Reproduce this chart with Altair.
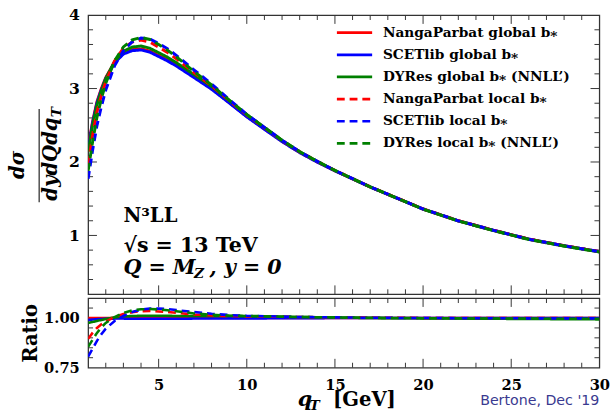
import altair as alt
import pandas as pd

# ---------------- data ----------------
q_vals = [1, 1.25, 1.5, 1.75, 2, 2.5, 3, 3.5, 4, 4.5, 5, 5.5, 6, 7, 8, 9, 10,
          11, 12, 13, 14, 15, 16, 17, 18, 19, 20, 22, 24, 26, 28, 30]

# NangaParbat global b* cross section (reference curve of the ratio panel)
xs_ref = [2.20, 2.55, 2.82, 3.00, 3.15, 3.36, 3.48, 3.53, 3.54, 3.51, 3.45, 3.39, 3.32,
          3.16, 3.00, 2.81, 2.62, 2.45, 2.28, 2.13, 2.00, 1.88, 1.77, 1.66, 1.56, 1.46,
          1.36, 1.20, 1.07, 0.95, 0.86, 0.78]

ratio_np_global = [1.000] * 32
ratio_scet_global = [0.990, 0.992, 0.994, 0.995, 0.996, 0.997, 0.997, 0.996, 0.996, 0.996,
                     0.996, 0.996, 0.996, 0.997, 0.997, 0.998, 0.998, 0.998, 0.999, 0.999,
                     0.999, 1.000, 1.000, 1.000, 1.000, 1.000, 1.000, 1.000, 1.000, 1.000,
                     1.000, 1.000]
ratio_dyres_global = [0.975, 0.980, 0.985, 0.990, 0.995, 1.003, 1.008, 1.010, 1.011, 1.011,
                      1.011, 1.011, 1.010, 1.010, 1.010, 1.010, 1.009, 1.008, 1.006, 1.005,
                      1.004, 1.002, 1.001, 1.000, 0.999, 0.999, 0.998, 0.997, 0.996, 0.995,
                      0.994, 0.993]
ratio_np_local = [0.895, 0.925, 0.950, 0.968, 0.982, 1.005, 1.020, 1.029, 1.034, 1.035,
                  1.033, 1.030, 1.026, 1.018, 1.013, 1.010, 1.008, 1.007, 1.006, 1.005,
                  1.004, 1.003, 1.002, 1.002, 1.001, 1.001, 1.000, 1.000, 1.000, 1.000,
                  1.000, 1.000]
ratio_scet_local = [0.805, 0.845, 0.885, 0.918, 0.946, 0.985, 1.010, 1.030, 1.042, 1.047,
                    1.047, 1.045, 1.040, 1.030, 1.021, 1.015, 1.011, 1.009, 1.007, 1.005,
                    1.004, 1.003, 1.002, 1.001, 1.001, 1.000, 1.000, 0.999, 0.999, 0.998,
                    0.998, 0.998]
ratio_dyres_local = [0.855, 0.890, 0.925, 0.953, 0.975, 1.005, 1.025, 1.038, 1.044, 1.045,
                     1.043, 1.039, 1.034, 1.023, 1.016, 1.012, 1.010, 1.009, 1.007, 1.005,
                     1.004, 1.003, 1.002, 1.001, 1.000, 1.000, 0.999, 0.998, 0.997, 0.997,
                     0.996, 0.996]

series_labels = ["NangaParbat global b⁎", "SCETlib global b⁎", "DYRes global b⁎ (NNLL’)",
                 "NangaParbat local b⁎", "SCETlib local b⁎", "DYRes local b⁎ (NNLL’)"]
series_ratios = [ratio_np_global, ratio_scet_global, ratio_dyres_global,
                 ratio_np_local, ratio_scet_local, ratio_dyres_local]

x_label_values = [5, 10, 15, 20, 25, 30]
x_major_ticks = [5, 10, 15, 20, 25]
x_minor_ticks = [2, 3, 4, 6, 7, 8, 9, 11, 12, 13, 14, 16, 17, 18, 19, 21, 22, 23, 24,
                 26, 27, 28, 29]
main_y_labels = [1, 2, 3, 4]
main_y_major = [1, 2, 3]
main_y_minor = [0.4, 0.6, 0.8, 1.2, 1.4, 1.6, 1.8, 2.2, 2.4, 2.6, 2.8, 3.2, 3.4, 3.6, 3.8]
ratio_y_labels = [0.75, 1.0]
ratio_y_major = [1.0]
ratio_y_minor = [0.8, 0.85, 0.9, 0.95, 1.05]
ratio_ref_line = [1.0]

txt_order = "N³LL"
txt_energy = "√s = 13 TeV"
txt_kin_a = "Q = M"
txt_kin_sub = "Z"
txt_kin_b = ", y = 0"
txt_num = "dσ"
txt_den = "dydQdq"
txt_den_sub = "T"
txt_ratio = "Ratio"
txt_xq = "q"
txt_xsub = "T"
txt_xunit = "[GeV]"
txt_credit = "Bertone, Dec '19"

# ---------------- styling ----------------
W = 522
H_MAIN = 285
H_RAT = 71
FONT = "DejaVu Serif"
AX = "#333333"
colors = ["#ff0000", "#0000ff", "#008000", "#ff0000", "#0000ff", "#008000"]
dashes = [[1, 0], [1, 0], [1, 0], [8, 5], [8, 5], [8, 5]]
LEG_X0, LEG_X1, LEG_TX = 254, 290, 301
LEG_Y0, LEG_DY = 18, 22.6

rows = []
for lab, rat in zip(series_labels, series_ratios):
    for qq, rr, ref in zip(q_vals, rat, xs_ref):
        rows.append({"q": qq, "v": ref * rr, "r": rr, "series": lab})
df = pd.DataFrame(rows)

xscale = alt.Scale(domain=[1, 30], nice=False, zero=False)
yscale = alt.Scale(domain=[0.2, 4], nice=False, zero=False)
rscale = alt.Scale(domain=[0.75, 1.1], nice=False, zero=False)
cscale = alt.Scale(domain=series_labels, range=colors)
dscale = alt.Scale(domain=series_labels, range=dashes)

yax_main = alt.Axis(values=main_y_labels, title=None, domain=False, ticks=False, tickSize=0,
                    grid=False, labelFont=FONT, labelFontSize=16, labelFontWeight="bold",
                    labelColor="black", labelPadding=9)
yax_rat = alt.Axis(values=ratio_y_labels, format=".2f", title=None, domain=False, ticks=False,
                   tickSize=0, grid=False, labelFont=FONT, labelFontSize=15,
                   labelFontWeight="bold", labelColor="black", labelPadding=9)
xax_rat = alt.Axis(values=x_label_values, title=None, domain=False, ticks=False, tickSize=0,
                   grid=False, labelFont=FONT, labelFontSize=15, labelFontWeight="bold",
                   labelColor="black", labelPadding=10, labelFlush=False)


def xticks(vals, length, top, H, axis):
    d = pd.DataFrame({"q": vals})
    y0 = 0 if top else H
    y1 = length if top else H - length
    return alt.Chart(d).mark_rule(color=AX, strokeWidth=1).encode(
        x=alt.X("q:Q", scale=xscale, axis=axis), y=alt.value(y0), y2=alt.value(y1))


def yticks(vals, length, left, field, scale, axis):
    d = pd.DataFrame({field: vals})
    x0 = 0 if left else W
    x1 = length if left else W - length
    return alt.Chart(d).mark_rule(color=AX, strokeWidth=1).encode(
        y=alt.Y(f"{field}:Q", scale=scale, axis=axis), x=alt.value(x0), x2=alt.value(x1))


def txt(s, x, y, size, style="normal", weight="bold", font=FONT, angle=None,
        align="left", baseline="alphabetic", color="black"):
    kw = dict(font=font, fontSize=size, fontStyle=style, fontWeight=weight,
              align=align, baseline=baseline, color=color)
    if angle is not None:
        kw["angle"] = angle
    return alt.Chart(pd.DataFrame({"t": [s]})).mark_text(**kw).encode(
        x=alt.value(x), y=alt.value(y), text="t:N")


# legend entries (drawn by hand so that the row spacing matches)
legend_layers = []
for i, (lab, col, dsh) in enumerate(zip(series_labels, colors, dashes)):
    yy = LEG_Y0 + LEG_DY * i
    legend_layers.append(
        alt.Chart(pd.DataFrame({"s": [lab]})).mark_rule(
            color=col, strokeWidth=2.8, strokeDash=dsh).encode(
            x=alt.value(LEG_X0), x2=alt.value(LEG_X1), y=alt.value(yy)))
    legend_layers.append(txt(lab, LEG_TX, yy, 14, baseline="middle"))

# ---------------- main panel ----------------
lines_main = alt.Chart(df).mark_line(strokeWidth=3, clip=True).encode(
    x=alt.X("q:Q", scale=xscale, axis=None),
    y=alt.Y("v:Q", scale=yscale, axis=yax_main),
    color=alt.Color("series:N", scale=cscale, legend=None),
    strokeDash=alt.StrokeDash("series:N", scale=dscale, legend=None),
)

frac_bar = alt.Chart(pd.DataFrame({"a": [0]})).mark_rule(color=AX, strokeWidth=1.3).encode(
    x=alt.value(-50), y=alt.value(96), y2=alt.value(191))

main = alt.layer(
    xticks(x_minor_ticks, 5, True, H_MAIN, None),
    xticks(x_major_ticks, 9, True, H_MAIN, None),
    xticks(x_minor_ticks, 5, False, H_MAIN, None),
    xticks(x_major_ticks, 9, False, H_MAIN, None),
    yticks(main_y_minor, 5, True, "v", yscale, yax_main),
    yticks(main_y_major, 9, True, "v", yscale, yax_main),
    yticks(main_y_minor, 5, False, "v", yscale, yax_main),
    yticks(main_y_major, 9, False, "v", yscale, yax_main),
    lines_main,
    *legend_layers,
    txt(txt_order, 36, 211, 20),
    txt(txt_energy, 36, 242, 21),
    txt(txt_kin_a, 36, 264, 21, style="italic"),
    txt(txt_kin_sub, 108, 268, 14, style="italic"),
    txt(txt_kin_b, 124, 264, 21, style="italic"),
    txt(txt_num, -72, 153, 20, style="italic", angle=270, align="center", baseline="middle"),
    frac_bar,
    txt(txt_den, -38, 147, 20, style="italic", angle=270, align="center", baseline="middle"),
    txt(txt_den_sub, -32, 99, 14, style="italic", angle=270, align="center", baseline="middle"),
).properties(width=W, height=H_MAIN)

# ---------------- ratio panel ----------------
ref_rule = alt.Chart(pd.DataFrame({"r": ratio_ref_line})).mark_rule(
    color="black", strokeWidth=1, strokeDash=[4, 3]).encode(
    y=alt.Y("r:Q", scale=rscale, axis=yax_rat))

lines_rat = alt.Chart(df).mark_line(strokeWidth=2.6, clip=True).encode(
    x=alt.X("q:Q", scale=xscale, axis=xax_rat),
    y=alt.Y("r:Q", scale=rscale, axis=yax_rat),
    color=alt.Color("series:N", scale=cscale, legend=None),
    strokeDash=alt.StrokeDash("series:N", scale=dscale, legend=None),
)

ratio = alt.layer(
    ref_rule,
    xticks(x_minor_ticks, 5, True, H_RAT, xax_rat),
    xticks(x_major_ticks, 9, True, H_RAT, xax_rat),
    xticks(x_minor_ticks, 5, False, H_RAT, xax_rat),
    xticks(x_major_ticks, 9, False, H_RAT, xax_rat),
    yticks(ratio_y_minor, 5, True, "r", rscale, yax_rat),
    yticks(ratio_y_major, 9, True, "r", rscale, yax_rat),
    yticks(ratio_y_minor, 5, False, "r", rscale, yax_rat),
    yticks(ratio_y_major, 9, False, "r", rscale, yax_rat),
    lines_rat,
    txt(txt_ratio, -58, 36, 20, angle=270, align="center", baseline="middle"),
    txt(txt_xq, 214, 110, 21, style="italic"),
    txt(txt_xsub, 226, 114, 14, style="italic"),
    txt(txt_xunit, 250, 110, 20),
    txt(txt_credit, W, 109, 14.5, weight="normal", font="DejaVu Sans", align="right",
        color="#3a3a90"),
).properties(width=W, height=H_RAT)

chart = alt.vconcat(main, ratio, spacing=0).resolve_scale(
    color="independent", strokeDash="independent"
).properties(
    padding={"left": 7, "top": 2, "right": 5, "bottom": 0}
).configure_view(stroke=AX, strokeWidth=1.3)

chart.save("out.html", embed_options={"renderer": "svg", "actions": False})
